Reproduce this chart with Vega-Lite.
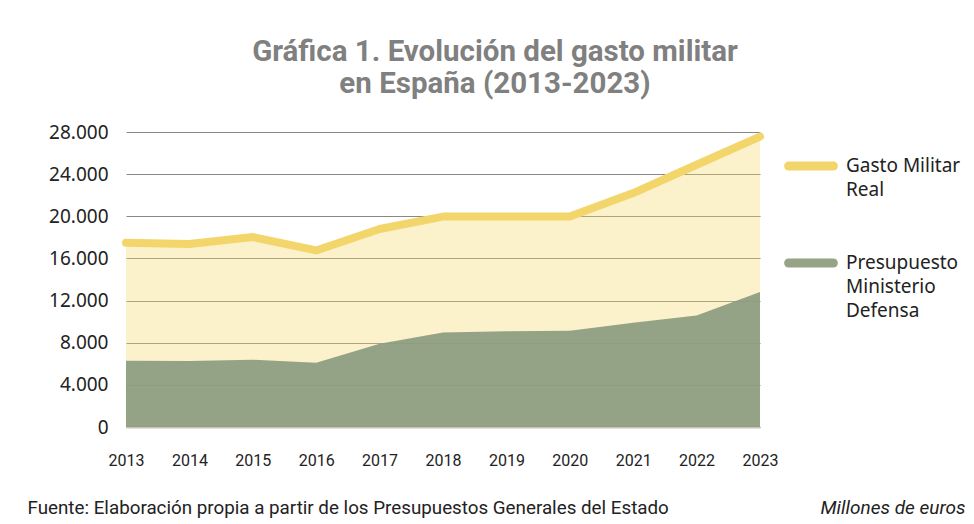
{
  "$schema": "https://vega.github.io/schema/vega-lite/v6.json",
  "width": 634,
  "height": 295,
  "autosize": {"type": "none"},
  "padding": {"left": 126, "top": 132, "right": 214, "bottom": 97},
  "background": "white",
  "config": {"view": {"stroke": null}},
  "title": {
    "text": ["Gráfica 1. Evolución del gasto militar", "en España (2013-2023)"],
    "font": "Roboto",
    "fontWeight": "bold",
    "fontSize": 29.5,
    "lineHeight": 32,
    "color": "#808080",
    "anchor": "middle",
    "dx": 52,
    "offset": 24
  },
  "data": {
    "values": [
      {"year": "2013", "series": "Gasto Militar Real", "value": 17490},
      {"year": "2014", "series": "Gasto Militar Real", "value": 17360},
      {"year": "2015", "series": "Gasto Militar Real", "value": 18030},
      {"year": "2016", "series": "Gasto Militar Real", "value": 16760},
      {"year": "2017", "series": "Gasto Militar Real", "value": 18790},
      {"year": "2018", "series": "Gasto Militar Real", "value": 19970},
      {"year": "2019", "series": "Gasto Militar Real", "value": 19970},
      {"year": "2020", "series": "Gasto Militar Real", "value": 19970},
      {"year": "2021", "series": "Gasto Militar Real", "value": 22200},
      {"year": "2022", "series": "Gasto Militar Real", "value": 24890},
      {"year": "2023", "series": "Gasto Militar Real", "value": 27570},
      {"year": "2013", "series": "Presupuesto Ministerio Defensa", "value": 6290},
      {"year": "2014", "series": "Presupuesto Ministerio Defensa", "value": 6260},
      {"year": "2015", "series": "Presupuesto Ministerio Defensa", "value": 6380},
      {"year": "2016", "series": "Presupuesto Ministerio Defensa", "value": 6100},
      {"year": "2017", "series": "Presupuesto Ministerio Defensa", "value": 7900},
      {"year": "2018", "series": "Presupuesto Ministerio Defensa", "value": 8980},
      {"year": "2019", "series": "Presupuesto Ministerio Defensa", "value": 9080},
      {"year": "2020", "series": "Presupuesto Ministerio Defensa", "value": 9140},
      {"year": "2021", "series": "Presupuesto Ministerio Defensa", "value": 9900},
      {"year": "2022", "series": "Presupuesto Ministerio Defensa", "value": 10590},
      {"year": "2023", "series": "Presupuesto Ministerio Defensa", "value": 12810}
    ]
  },
  "encoding": {
    "x": {
      "field": "year",
      "type": "ordinal",
      "scale": {"type": "point", "padding": 0},
      "axis": {
        "labelAngle": 0,
        "labelFont": "Roboto",
        "labelFontSize": 16,
        "labelColor": "#222222",
        "labelPadding": 25,
        "ticks": false,
        "domainColor": "#cbc3b8",
        "domainWidth": 2,
        "title": "Fuente: Elaboración propia a partir de los Presupuestos Generales del Estado",
        "titleFont": "Roboto",
        "titleFontSize": 18.8,
        "titleFontWeight": "normal",
        "titleColor": "#222222",
        "titleAnchor": "start",
        "titleAlign": "left",
        "titleBaseline": "alphabetic",
        "titleX": -99,
        "titleY": 86
      }
    },
    "y": {
      "field": "value",
      "type": "quantitative",
      "scale": {"domain": [0, 28000], "nice": false},
      "axis": {
        "values": [0, 4000, 8000, 12000, 16000, 20000, 24000, 28000],
        "labelExpr": "replace(format(datum.value, ','), ',', '.')",
        "labelFont": "Noto Sans",
        "labelFontSize": 19,
        "labelColor": "#222222",
        "labelPadding": 18,
        "ticks": false,
        "domain": false,
        "gridColor": "#888888",
        "gridWidth": 1.2,
        "title": "Millones de euros",
        "titleAngle": 0,
        "titleFont": "Roboto",
        "titleFontSize": 19,
        "titleFontStyle": "italic",
        "titleFontWeight": "normal",
        "titleColor": "#222222",
        "titleAlign": "right",
        "titleBaseline": "alphabetic",
        "titleX": 839,
        "titleY": 381
      }
    }
  },
  "layer": [
    {
      "transform": [{"filter": "datum.series === 'Gasto Militar Real'"}],
      "mark": {"type": "area", "color": "#f3d66b", "opacity": 0.35}
    },
    {
      "transform": [{"filter": "datum.series === 'Presupuesto Ministerio Defensa'"}],
      "mark": {"type": "area", "color": "#8b9b7f", "opacity": 0.92}
    },
    {
      "transform": [{"filter": "datum.series === 'Gasto Militar Real'"}],
      "mark": {"type": "line", "strokeWidth": 8, "strokeCap": "round", "strokeJoin": "round"},
      "encoding": {
        "stroke": {
          "field": "series",
          "type": "nominal",
          "scale": {
            "domain": ["Gasto Militar Real", "Presupuesto Ministerio Defensa"],
            "range": ["#f3d66b", "#96a386"]
          },
          "legend": {
            "orient": "none",
            "legendX": 658,
            "legendY": 7,
            "title": null,
            "symbolType": "stroke",
            "symbolSize": 2000,
            "symbolStrokeWidth": 9,
            "labelFont": "Noto Sans",
            "labelFontSize": 19,
            "labelColor": "#222222",
            "labelOffset": 8,
            "labelLimit": 200,
            "labelBaseline": "middle",
            "rowPadding": 36,
            "labelExpr": "datum.label === 'Gasto Militar Real' ? ['Gasto Militar', 'Real'] : ['Presupuesto', 'Ministerio', 'Defensa']",
            "encode": {
              "symbols": {"update": {"strokeCap": {"value": "round"}}},
              "labels": {"update": {"lineHeight": {"value": 24}}}
            }
          }
        }
      }
    }
  ]
}
